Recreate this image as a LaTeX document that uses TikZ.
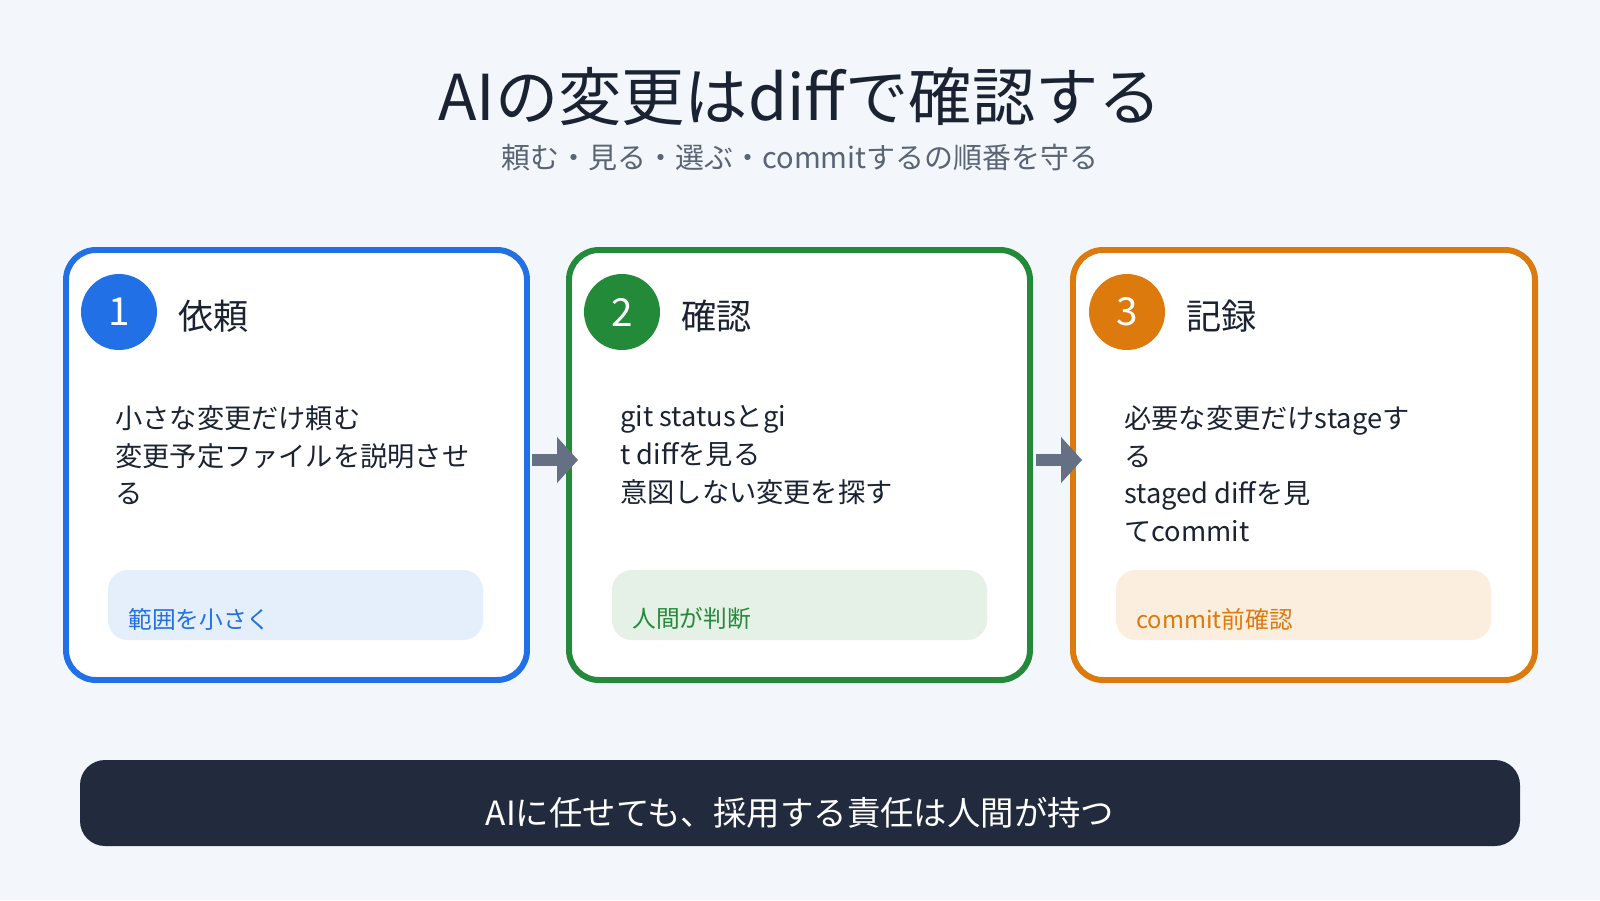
\documentclass[tikz,border=0pt]{standalone}
\usepackage{fontspec}
\setmainfont{Noto Sans CJK JP}
\usetikzlibrary{arrows.meta}
\definecolor{bgcol}{HTML}{F3F7FC}
\definecolor{inkcol}{HTML}{1B2333}
\definecolor{subcol}{HTML}{5B6475}
\definecolor{bluecol}{HTML}{2270E6}
\definecolor{greencol}{HTML}{228A38}
\definecolor{orangecol}{HTML}{DC7A0E}
\definecolor{bluetag}{HTML}{E5EEFB}
\definecolor{greentag}{HTML}{E5F0E6}
\definecolor{orangetag}{HTML}{FBEEDF}
\definecolor{arrowcol}{HTML}{667085}
\definecolor{barcol}{HTML}{222A3D}
\tikzset{
  card/.style={draw=#1, line width=3.4pt, fill=white, rounded corners=0.6cm},
  tagbox/.style={fill=#1, rounded corners=0.4cm},
  badge/.style={circle, fill=#1, minimum size=1.52cm, inner sep=0pt, text=white, font=\fontsize{22}{26}\selectfont},
  head/.style={anchor=west, text=inkcol, font=\fontsize{20}{24}\selectfont},
  body/.style={anchor=north west, align=left, text=inkcol, inner sep=0pt, font=\fontsize{15.5}{21.5}\selectfont},
  tagtext/.style={anchor=west, text=#1, inner sep=0pt, font=\fontsize{13.5}{16}\selectfont},
  flow/.style={-{Triangle[length=0.42cm,width=0.9cm]}, line width=0.24cm, draw=arrowcol}
}
\begin{document}
\begin{tikzpicture}[x=0.02cm, y=-0.02cm]
        % Background
        \fill[bgcol] (0,0) rectangle (1600,900);
        \useasboundingbox (0,0) rectangle (1600,900);

        % Title
        \node[text=inkcol, font=\fontsize{36}{40}\selectfont] (title) at (800,97) {AIの変更はdiffで確認する};
        \node[text=subcol, font=\fontsize{16.5}{20}\selectfont] (subtitle) at (800,158) {頼む・見る・選ぶ・commitするの順番を守る};

        % Cards
        \draw[card=bluecol] (66,250) rectangle (527,680);
        \draw[card=greencol] (569,250) rectangle (1030,680);
        \draw[card=orangecol] (1073,250) rectangle (1535,680);
        \coordinate (c1r) at (532,460);
        \coordinate (c2l) at (578,460);
        \coordinate (c2r) at (1036,460);
        \coordinate (c3l) at (1082,460);

        % Nodes
        \node[badge=bluecol] (b1) at (119,312) {1};
        \node[head] (h1) at (172,316) {依頼};
        \node[body] (t1) at (115,405) {小さな変更だけ頼む\\変更予定ファイルを説明させ\\る};
        \fill[tagbox=bluetag] (108,570) rectangle (483,640);
        \node[tagtext=bluecol] (g1) at (128,619) {範囲を小さく};

        \node[badge=greencol] (b2) at (622,312) {2};
        \node[head] (h2) at (675,316) {確認};
        \node[body] (t2) at (620,405) {git statusとgi\\t diffを見る\\意図しない変更を探す};
        \fill[tagbox=greentag] (612,570) rectangle (987,640);
        \node[tagtext=greencol] (g2) at (632,619) {人間が判断};

        \node[badge=orangecol] (b3) at (1127,312) {3};
        \node[head] (h3) at (1180,316) {記録};
        \node[body] (t3) at (1124,405) {必要な変更だけstageす\\る\\staged diffを見\\てcommit};
        \fill[tagbox=orangetag] (1116,570) rectangle (1491,640);
        \node[tagtext=orangecol] (g3) at (1136,619) {commit前確認};

        % Arrows
        \draw[flow] (c1r) -- (c2l);
        \draw[flow] (c2r) -- (c3l);

        % Bottom bar
        \fill[barcol, rounded corners=0.5cm] (80,760) rectangle (1520,846);
        \node[text=white, font=\fontsize{19}{23}\selectfont] (note) at (800,813) {AIに任せても、採用する責任は人間が持つ};
\end{tikzpicture}
\end{document}
